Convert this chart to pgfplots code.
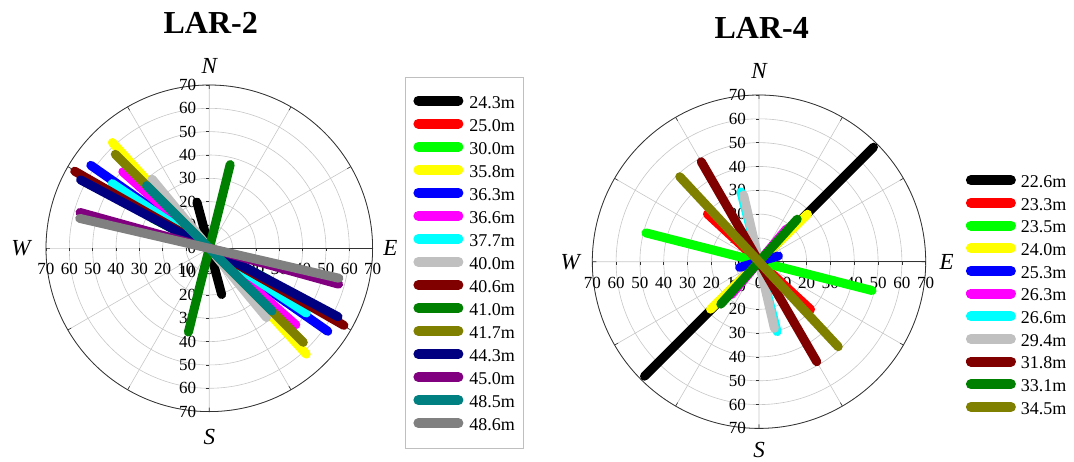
\documentclass[border=0pt]{standalone}
\usepackage{pgfplots}
\pgfplotsset{compat=1.18}
\usepgfplotslibrary{polar}
\usepackage{fontspec}
\setmainfont{Liberation Serif}

% Origin-style palette
\definecolor{cBlack}{RGB}{0,0,0}
\definecolor{cRed}{RGB}{255,0,0}
\definecolor{cLime}{RGB}{0,255,0}
\definecolor{cYellow}{RGB}{255,255,0}
\definecolor{cBlue}{RGB}{0,0,255}
\definecolor{cMagenta}{RGB}{255,0,255}
\definecolor{cCyan}{RGB}{0,255,255}
\definecolor{cSilver}{RGB}{192,192,192}
\definecolor{cMaroon}{RGB}{128,0,0}
\definecolor{cGreen}{RGB}{0,128,0}
\definecolor{cOlive}{RGB}{128,128,0}
\definecolor{cNavy}{RGB}{0,0,128}
\definecolor{cPurple}{RGB}{128,0,128}
\definecolor{cTeal}{RGB}{0,128,128}
\definecolor{cGray}{RGB}{128,128,128}

\tikzset{
  tl/.style={font=\fontsize{17}{17}\selectfont, inner sep=0pt},
  cmp/.style={font=\fontsize{23}{23}\selectfont\itshape, inner sep=0pt},
  ttl/.style={font=\fontsize{32}{34}\selectfont\bfseries, inner sep=0pt},
  tk/.style={draw=black!80, line width=0.6pt},
}

\pgfplotsset{
  rose/.style={
    scale only axis,
    ymin=0, ymax=70,
    xtick={0,30,...,330}, ytick={10,20,...,70},
    xticklabels={}, yticklabels={},
    grid=major,
    major grid style={draw=black!22, line width=0.6pt},
    axis line style={draw=black!80, line width=0.8pt},
    xtick style={draw=black!80, line width=0.6pt},
    ytick style={draw=none},
    tick align=outside, major tick length=4pt,
    clip=false,
    legend cell align=left,
    legend image code/.code={\draw[##1, line width=10pt, line cap=round] (0pt,1pt) -- (40pt,1pt);},
  },
  % one trace: a thick bar through the centre, angle measured as in the polar axis
  rl/.style={line width=9pt, line cap=round},
}

% radial scale numbers and ticks along N, S, W and E
\newcommand{\roselabels}{%
  \pgfplotsinvokeforeach{0,10,...,70}{%
    \node[tl, anchor=east, xshift=-13pt] at (axis cs:90,##1) {##1};
    \draw[tk] (axis cs:90,##1) -- ++(-3pt,0pt);
    \node[tl, anchor=center, yshift=-21pt] at (axis cs:0,##1) {##1};
    \draw[tk] (axis cs:0,##1) -- ++(0pt,-3pt);
  }%
  \pgfplotsinvokeforeach{10,20,...,70}{%
    \node[tl, anchor=east, xshift=-13pt] at (axis cs:270,##1) {##1};
    \draw[tk] (axis cs:270,##1) -- ++(-3pt,0pt);
    \node[tl, anchor=center, yshift=-21pt] at (axis cs:180,##1) {##1};
    \draw[tk] (axis cs:180,##1) -- ++(0pt,-3pt);
  }%
}

\begin{document}
\begin{tikzpicture}
\useasboundingbox (0pt,0pt) rectangle (1074pt,-462pt);

\node[ttl] at (210.7pt,-22.5pt) {LAR-2};
\node[ttl] at (761.7pt,-27.5pt) {LAR-4};

% ---------------- LAR-2 ----------------
\begin{polaraxis}[rose,
  at={(209.3pt,-248.3pt)}, anchor=center,
  width=326.6pt, height=326.6pt,
  legend style={at={(1.0992,1.0245)}, anchor=north west,
    draw=black!25, line width=0.8pt,
    inner xsep=8pt, inner ysep=12.7pt,
    font=\fontsize{18}{18}\selectfont, row sep=0pt,
    nodes={inner sep=0pt, text height=18pt, text depth=5.04pt},
    /tikz/every odd column/.append style={column sep=6pt}},
]
\roselabels
\node[cmp, yshift=19.5pt] at (axis cs:90,70) {N};
\node[cmp, yshift=-25pt] at (axis cs:270,70) {S};
\node[cmp, xshift=-25pt] at (axis cs:180,70) {W};
\node[cmp, xshift=17.7pt] at (axis cs:0,70) {E};

\addplot[cBlack, rl]   coordinates {(105,20.5) (285,20.5)};   \addlegendentry{24.3m}
\addplot[cRed, rl]     coordinates {(135,24) (315,24)};       \addlegendentry{25.0m}
\addplot[cLime, rl]    coordinates {(152,28) (332,28)};       \addlegendentry{30.0m}
\addplot[cYellow, rl]  coordinates {(132.5,61.5) (312.5,61.5)}; \addlegendentry{35.8m}
\addplot[cBlue, rl]    coordinates {(145,62) (325,62)};       \addlegendentry{36.3m}
\addplot[cMagenta, rl] coordinates {(138.5,49.5) (318.5,49.5)}; \addlegendentry{36.6m}
\addplot[cCyan, rl]    coordinates {(146.3,50) (326.3,50)};   \addlegendentry{37.7m}
\addplot[cSilver, rl]  coordinates {(129.6,38.5) (309.6,38.5)}; \addlegendentry{40.0m}
\addplot[cMaroon, rl]  coordinates {(150.2,66.5) (330.2,66.5)}; \addlegendentry{40.6m}
\addplot[cGreen, rl]   coordinates {(76,37) (256,37)};        \addlegendentry{41.0m}
\addplot[cOlive, rl]   coordinates {(135,57) (315,57)};       \addlegendentry{41.7m}
\addplot[cNavy, rl]    coordinates {(152,62.5) (332,62.5)};   \addlegendentry{44.3m}
\addplot[cPurple, rl]  coordinates {(164.5,57.5) (344.5,57.5)}; \addlegendentry{45.0m}
\addplot[cTeal, rl]    coordinates {(135,38) (315,38)};       \addlegendentry{48.5m}
\addplot[cGray, rl]    coordinates {(167,57) (347,57)};       \addlegendentry{48.6m}
\end{polaraxis}

% ---------------- LAR-4 ----------------
\begin{polaraxis}[rose,
  at={(759pt,-261.7pt)}, anchor=center,
  width=333.4pt, height=333.4pt,
  legend style={at={(1.12,0.776)}, anchor=north west,
    draw=none, inner sep=0pt,
    font=\fontsize{18}{18}\selectfont, row sep=0pt,
    nodes={inner sep=0pt, text height=17.67pt, text depth=5pt},
    /tikz/every odd column/.append style={column sep=5pt}},
]
\roselabels
\node[cmp, yshift=24pt] at (axis cs:90,70) {N};
\node[cmp, yshift=-22pt] at (axis cs:270,70) {S};
\node[cmp, xshift=-22pt] at (axis cs:180,70) {W};
\node[cmp, xshift=21pt] at (axis cs:0,70) {E};

\addplot[cBlack, rl]   coordinates {(45,68) (225,68)};        \addlegendentry{22.6m}
\addplot[cRed, rl]     coordinates {(137.2,29.5) (317.2,29.5)}; \addlegendentry{23.3m}
\addplot[cLime, rl]    coordinates {(165.7,49) (345.7,49)};   \addlegendentry{23.5m}
\addplot[cYellow, rl]  coordinates {(44.4,28.5) (224.4,28.5)}; \addlegendentry{24.0m}
\addplot[cBlue, rl]    coordinates {(16.4,8.5) (196.4,8.5)};  \addlegendentry{25.3m}
\addplot[cMagenta, rl] coordinates {(50,18) (230,18)};        \addlegendentry{26.3m}
\addplot[cCyan, rl]    coordinates {(104.5,30.3) (284.5,30.3)}; \addlegendentry{26.6m}
\addplot[cSilver, rl]  coordinates {(103,28.7) (283,28.7)};   \addlegendentry{29.4m}
\addplot[cMaroon, rl]  coordinates {(120,48.5) (300,48.5)};   \addlegendentry{31.8m}
\addplot[cGreen, rl]   coordinates {(48,24) (228,24)};        \addlegendentry{33.1m}
\addplot[cOlive, rl]   coordinates {(133,48.8) (313,48.8)};   \addlegendentry{34.5m}
\end{polaraxis}
\end{tikzpicture}
\end{document}
